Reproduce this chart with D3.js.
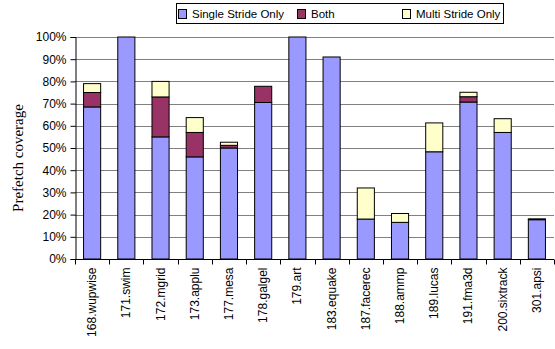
<!DOCTYPE html>
<html>
<head>
<meta charset="utf-8">
<script src="https://cdn.jsdelivr.net/npm/d3@7"></script>
<style>
  html, body { margin: 0; padding: 0; background: #fff; }
  svg { display: block; }
</style>
</head>
<body>
<svg id="chart" width="555" height="349"></svg>
<script>
// Benchmarks and per-benchmark prefetch coverage (percent), split by stride kind
const benchmarks = ["168.wupwise", "171.swim", "172.mgrid", "173.applu", "177.mesa", "178.galgel",
  "179.art", "183.equake", "187.facerec", "188.ammp", "189.lucas", "191.fma3d", "200.sixtrack", "301.apsi"];
const singleStride = [68.5, 100, 55, 46, 50, 70.5, 100, 91, 18, 16.5, 48.3, 70.7, 57, 17.7];
const bothStride   = [6.5, 0, 18, 11, 1.2, 7.3, 0, 0, 0, 0, 0, 2.4, 0, 0];
const multiStride  = [4, 0, 7, 6.7, 1.4, 0, 0, 0, 14, 4, 13, 2, 6.2, 0.4];
const seriesNames = ["Single Stride Only", "Both", "Multi Stride Only"];
const seriesColors = ["#9999FF", "#993366", "#FFFFCC"];
const yTicks = [0, 10, 20, 30, 40, 50, 60, 70, 80, 90, 100];

const rows = benchmarks.map((b, i) => ({
  name: b, single: singleStride[i], both: bothStride[i], multi: multiStride[i]
}));
const keys = ["single", "both", "multi"];
const stacked = d3.stack().keys(keys)(rows);

const svg = d3.select("#chart");
const plotLeft = 75, plotRight = 554, plotTop = 37, plotBottom = 259;

const x = d3.scaleBand().domain(benchmarks).range([plotLeft, plotRight]).paddingInner(0.5).paddingOuter(0.25);
const y = d3.scaleLinear().domain([0, 100]).range([plotBottom, plotTop]);

// horizontal gridlines
svg.append("g").selectAll("line").data(yTicks.filter(t => t > 0)).join("line")
  .attr("x1", plotLeft).attr("x2", plotRight)
  .attr("y1", d => Math.round(y(d)) + 0.5).attr("y2", d => Math.round(y(d)) + 0.5)
  .attr("stroke", "#808080").attr("stroke-width", 1);

// stacked bars
svg.append("g").selectAll("g").data(stacked).join("g")
  .attr("fill", (d, i) => seriesColors[i])
  .selectAll("rect").data(d => d.filter(s => s[1] - s[0] > 0)).join("rect")
  .attr("x", d => x(d.data.name))
  .attr("width", x.bandwidth())
  .attr("y", d => y(d[1]))
  .attr("height", d => y(d[0]) - y(d[1]))
  .attr("stroke", "#000").attr("stroke-width", 1);

// y axis
const yAxis = d3.axisLeft(y).tickValues(yTicks).tickFormat(d => d + "%").tickSize(5).tickPadding(4);
const gy = svg.append("g").attr("transform", `translate(${plotLeft + 0.5},0)`).call(yAxis);
gy.select(".domain").attr("stroke", "#000");
gy.selectAll(".tick line").attr("stroke", "#000");
gy.selectAll("text").attr("font-family", "Liberation Sans, Arial, sans-serif").attr("font-size", 12).attr("fill", "#000");

// x axis with ticks between categories
const gx = svg.append("g").attr("transform", `translate(0,${plotBottom + 0.5})`);
gx.append("line").attr("x1", plotLeft).attr("x2", plotRight).attr("stroke", "#000");
gx.selectAll("line.sep").data(d3.range(benchmarks.length + 1)).join("line")
  .attr("class", "sep")
  .attr("x1", i => Math.round(plotLeft + i * x.step()) + 0.5)
  .attr("x2", i => Math.round(plotLeft + i * x.step()) + 0.5)
  .attr("y1", 0).attr("y2", 5).attr("stroke", "#000");
gx.selectAll("text").data(benchmarks).join("text")
  .attr("transform", d => `translate(${x(d) + x.bandwidth() / 2 + 4},8) rotate(-90)`)
  .attr("text-anchor", "end")
  .attr("font-family", "Liberation Sans, Arial, sans-serif")
  .attr("font-size", 12)
  .attr("fill", "#000")
  .text(d => d);

// y axis title
svg.append("text")
  .attr("transform", "translate(23,158) rotate(-90)")
  .attr("text-anchor", "middle")
  .attr("font-family", "Liberation Serif, Times New Roman, serif")
  .attr("font-size", 15)
  .attr("fill", "#000")
  .text("Prefetch coverage");

// legend
const lg = svg.append("g");
lg.append("rect").attr("x", 176.5).attr("y", 3.5).attr("width", 327).attr("height", 20)
  .attr("fill", "#fff").attr("stroke", "#000");
const legendX = [178, 297, 402];
seriesNames.forEach((name, i) => {
  lg.append("rect").attr("x", legendX[i] + 0.5).attr("y", 9.5).attr("width", 8).attr("height", 9)
    .attr("fill", seriesColors[i]).attr("stroke", "#000");
  lg.append("text").attr("x", legendX[i] + 14).attr("y", 18)
    .attr("font-family", "Liberation Sans, Arial, sans-serif").attr("font-size", 11.5)
    .attr("fill", "#000").text(name);
});
</script>
</body>
</html>
